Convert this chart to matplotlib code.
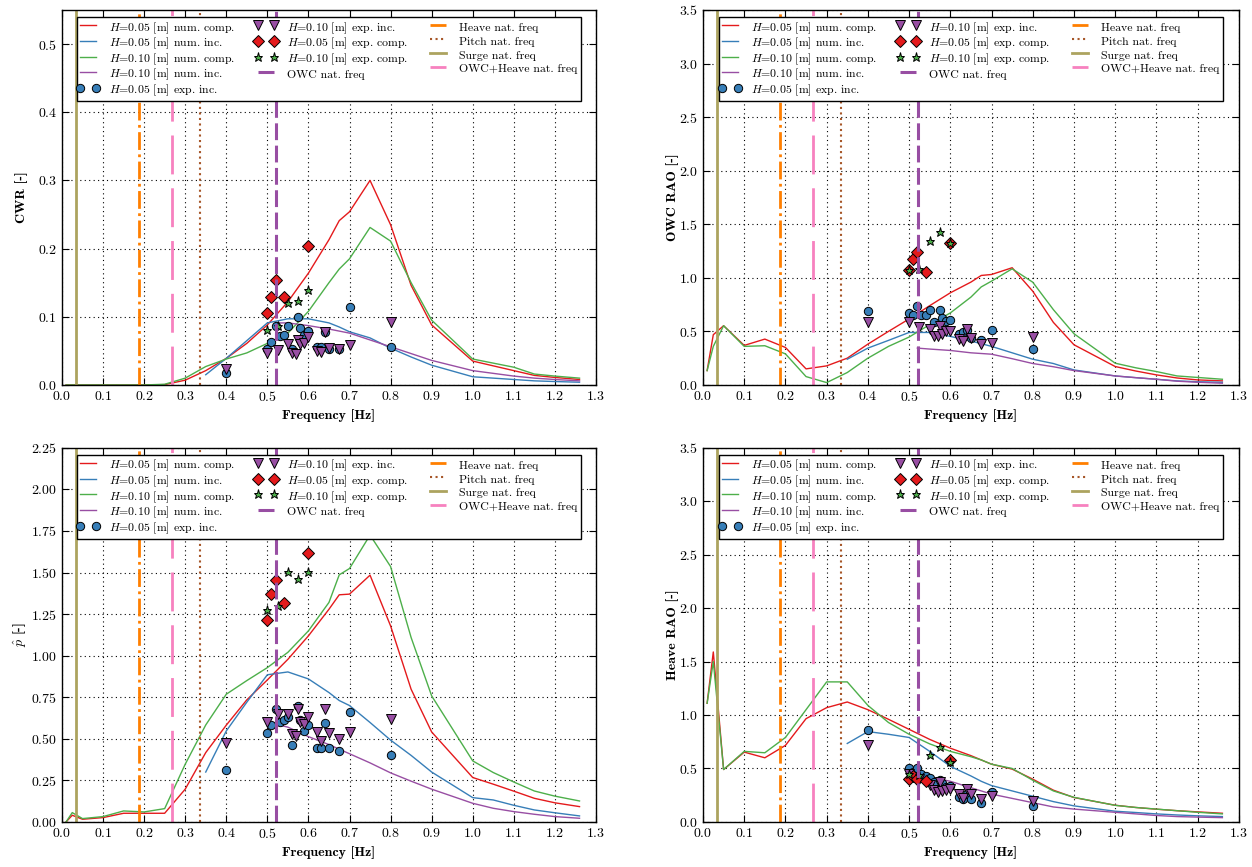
import matplotlib
matplotlib.use("Agg")
import matplotlib.pyplot as plt
from matplotlib.lines import Line2D
from matplotlib.legend_handler import HandlerLine2D

plt.rcParams.update({
    "font.family": "cmr10",
    "mathtext.fontset": "cm",
    "axes.formatter.use_mathtext": True,
    "axes.unicode_minus": False,
    "font.size": 10,
    "xtick.direction": "in",
    "ytick.direction": "in",
    "xtick.top": True,
    "ytick.right": True,
    "xtick.major.size": 5,
    "ytick.major.size": 5,
    "xtick.major.width": 0.8,
    "ytick.major.width": 0.8,
    "axes.linewidth": 1.0,
})

# ---------------- frequencies [Hz] ----------------
freq_num = [0.01, 0.025, 0.05, 0.10, 0.15, 0.20, 0.25, 0.30, 0.35, 0.40, 0.45, 0.50, 0.55,
            0.60, 0.65, 0.675, 0.70, 0.75, 0.80, 0.85, 0.90, 1.00, 1.05, 1.10, 1.15, 1.20, 1.26]
freq_num_inc05 = [0.35, 0.40, 0.45, 0.50, 0.55, 0.60, 0.65, 0.675, 0.70, 0.75, 0.80, 0.85,
                  0.90, 1.00, 1.05, 1.10, 1.15, 1.20, 1.26]
freq_num_inc10 = [0.52, 0.55, 0.60, 0.65, 0.70, 0.75, 0.80, 0.85, 0.90, 1.00, 1.05, 1.10,
                  1.15, 1.20, 1.26]
freq_exp_inc05 = [0.40, 0.50, 0.51, 0.52, 0.53, 0.54, 0.55, 0.56, 0.575, 0.58, 0.59, 0.60,
                  0.62, 0.63, 0.64, 0.65, 0.675, 0.70, 0.80]
freq_exp_inc10 = [0.40, 0.50, 0.525, 0.55, 0.56, 0.57, 0.575, 0.58, 0.59, 0.60, 0.62, 0.63,
                  0.64, 0.65, 0.675, 0.70, 0.80]
freq_exp_comp05 = [0.50, 0.51, 0.52, 0.54, 0.60]
freq_exp_comp10 = [0.50, 0.525, 0.55, 0.575, 0.60]

# natural frequencies [Hz]
f_surge = 0.035
f_heave = 0.187
f_owc_heave = 0.267
f_pitch = 0.335
f_owc = 0.522

# ---------------- CWR ----------------
cwr_num_comp05 = [0, 0, 0, 0, 0, 0, 0.0005, 0.007, 0.021, 0.039, 0.061, 0.088, 0.122, 0.164,
                  0.213, 0.241, 0.254, 0.300, 0.235, 0.146, 0.088, 0.035, 0.028, 0.021, 0.014,
                  0.011, 0.008]
cwr_num_comp10 = [0, 0, 0, 0, 0, 0, 0.001, 0.010, 0.027, 0.038, 0.047, 0.061, 0.076, 0.108,
                  0.150, 0.170, 0.185, 0.231, 0.211, 0.150, 0.095, 0.038, 0.032, 0.026, 0.016,
                  0.013, 0.010]
cwr_num_inc05 = [0.015, 0.039, 0.065, 0.091, 0.097, 0.097, 0.091, 0.085, 0.078, 0.069, 0.054,
                 0.041, 0.029, 0.012, 0.010, 0.008, 0.006, 0.005, 0.004]
cwr_num_inc10 = [0.091, 0.091, 0.087, 0.082, 0.076, 0.066, 0.056, 0.046, 0.036, 0.021, 0.017,
                 0.013, 0.010, 0.008, 0.006]
cwr_exp_inc05 = [0.017, 0.052, 0.063, 0.086, 0.072, 0.073, 0.087, 0.052, 0.100, 0.084, 0.073,
                 0.079, 0.055, 0.055, 0.077, 0.053, 0.053, 0.114, 0.056]
cwr_exp_inc10 = [0.023, 0.047, 0.051, 0.060, 0.047, 0.045, 0.066, 0.060, 0.061, 0.070, 0.050,
                 0.048, 0.077, 0.054, 0.053, 0.059, 0.092]
cwr_exp_comp05 = [0.106, 0.129, 0.154, 0.129, 0.204]
cwr_exp_comp10 = [0.081, 0.086, 0.120, 0.123, 0.139]

# ---------------- OWC RAO ----------------
owc_num_comp05 = [0.134, 0.469, 0.553, 0.369, 0.428, 0.350, 0.150, 0.178, 0.250, 0.381, 0.500,
                  0.616, 0.740, 0.860, 0.960, 1.022, 1.031, 1.094, 0.875, 0.584, 0.375, 0.172,
                  0.130, 0.094, 0.065, 0.047, 0.038]
owc_num_comp10 = [0.134, 0.360, 0.553, 0.360, 0.366, 0.290, 0.078, 0.022, 0.116, 0.250, 0.360,
                  0.447, 0.563, 0.672, 0.820, 0.915, 0.969, 1.084, 0.959, 0.703, 0.478, 0.203,
                  0.160, 0.125, 0.084, 0.070, 0.053]
owc_num_inc05 = [0.240, 0.344, 0.416, 0.490, 0.490, 0.453, 0.410, 0.385, 0.360, 0.300, 0.240,
                 0.200, 0.140, 0.084, 0.068, 0.053, 0.038, 0.030, 0.025]
owc_num_inc10 = [0.344, 0.335, 0.322, 0.300, 0.287, 0.245, 0.200, 0.170, 0.134, 0.084, 0.068,
                 0.053, 0.035, 0.025, 0.016]
owc_exp_inc05 = [0.686, 0.671, 0.656, 0.739, 0.656, 0.653, 0.702, 0.583, 0.702, 0.624, 0.599,
                 0.602, 0.474, 0.490, 0.515, 0.437, 0.421, 0.515, 0.334]
owc_exp_inc10 = [0.584, 0.584, 0.537, 0.522, 0.459, 0.453, 0.553, 0.480, 0.500, 0.500, 0.430,
                 0.410, 0.520, 0.440, 0.380, 0.390, 0.447]
owc_exp_comp05 = [1.072, 1.178, 1.240, 1.056, 1.328]
owc_exp_comp10 = [1.070, 1.078, 1.344, 1.431, 1.328]

# ---------------- p-hat ----------------
p_num_comp05 = [0.0, 0.040, 0.016, 0.026, 0.052, 0.052, 0.052, 0.197, 0.417, 0.582, 0.734,
                0.854, 0.978, 1.119, 1.279, 1.366, 1.370, 1.484, 1.179, 0.798, 0.541, 0.267,
                0.227, 0.185, 0.142, 0.115, 0.092]
p_num_comp10 = [0.0, 0.056, 0.020, 0.032, 0.066, 0.060, 0.080, 0.347, 0.583, 0.768, 0.850,
                0.928, 1.020, 1.149, 1.320, 1.486, 1.524, 1.725, 1.536, 1.109, 0.758, 0.367,
                0.297, 0.240, 0.186, 0.155, 0.126]
p_num_inc05 = [0.300, 0.547, 0.720, 0.885, 0.902, 0.860, 0.778, 0.730, 0.700, 0.598, 0.492,
               0.400, 0.300, 0.146, 0.132, 0.100, 0.072, 0.055, 0.036]
p_num_inc10 = [0.588, 0.570, 0.513, 0.465, 0.410, 0.355, 0.295, 0.245, 0.197, 0.112, 0.082,
               0.062, 0.046, 0.032, 0.022]
p_exp_inc05 = [0.313, 0.533, 0.585, 0.678, 0.600, 0.614, 0.630, 0.460, 0.697, 0.612, 0.546,
               0.582, 0.442, 0.442, 0.597, 0.442, 0.428, 0.661, 0.402]
p_exp_inc10 = [0.473, 0.602, 0.647, 0.651, 0.526, 0.516, 0.677, 0.600, 0.590, 0.630, 0.540,
               0.484, 0.680, 0.536, 0.496, 0.540, 0.616]
p_exp_comp05 = [1.213, 1.370, 1.456, 1.319, 1.616]
p_exp_comp10 = [1.275, 1.300, 1.504, 1.460, 1.504]

# ---------------- Heave RAO ----------------
heave_num_comp05 = [1.11, 1.59, 0.49, 0.653, 0.60, 0.716, 0.966, 1.069, 1.122, 1.05, 0.96,
                    0.866, 0.772, 0.69, 0.62, 0.58, 0.54, 0.494, 0.40, 0.297, 0.228, 0.156,
                    0.135, 0.119, 0.105, 0.094, 0.081]
heave_num_comp10 = [1.11, 1.50, 0.49, 0.66, 0.647, 0.79, 1.05, 1.31, 1.31, 1.09, 0.93, 0.82,
                    0.73, 0.66, 0.61, 0.58, 0.54, 0.50, 0.39, 0.29, 0.23, 0.155, 0.135, 0.12,
                    0.105, 0.09, 0.075]
heave_num_inc05 = [0.734, 0.845, 0.82, 0.79, 0.66, 0.52, 0.43, 0.38, 0.34, 0.29, 0.24, 0.19,
                   0.15, 0.10, 0.088, 0.075, 0.065, 0.057, 0.05]
heave_num_inc10 = [0.44, 0.42, 0.38, 0.32, 0.26, 0.22, 0.18, 0.14, 0.12, 0.09, 0.075, 0.06,
                   0.05, 0.045, 0.04]
heave_exp_inc05 = [0.856, 0.50, 0.47, 0.50, 0.45, 0.43, 0.41, 0.37, 0.39, 0.36, 0.33, 0.34,
                   0.23, 0.21, 0.26, 0.21, 0.18, 0.28, 0.15]
heave_exp_inc10 = [0.72, 0.45, 0.40, 0.35, 0.30, 0.28, 0.37, 0.29, 0.30, 0.31, 0.26, 0.225,
                   0.31, 0.26, 0.215, 0.24, 0.197]
heave_exp_comp05 = [0.406, 0.43, 0.40, 0.384, 0.578]
heave_exp_comp10 = [0.45, 0.44, 0.625, 0.697, 0.556]

RED, BLUE, GREEN, PURPLE = "#e41a1c", "#377eb8", "#4daf4a", "#984ea3"
ORANGE, BROWN, OLIVE, PINK = "#ff7f00", "#a65628", "#aca35f", "#f781bf"

panels = [
    dict(pos=[0.0495, 0.556, 0.4265, 0.4325], ylabel="CWR [-]", ylim=0.55, ystep=0.1, lx=-0.064,
         nc05=cwr_num_comp05, ni05=cwr_num_inc05, nc10=cwr_num_comp10, ni10=cwr_num_inc10,
         ei05=cwr_exp_inc05, ei10=cwr_exp_inc10, ec05=cwr_exp_comp05, ec10=cwr_exp_comp10),
    dict(pos=[0.5615, 0.556, 0.4280, 0.4325], ylabel="OWC RAO [-]", ylim=3.5, ystep=0.5, lx=-0.044,
         nc05=owc_num_comp05, ni05=owc_num_inc05, nc10=owc_num_comp10, ni10=owc_num_inc10,
         ei05=owc_exp_inc05, ei10=owc_exp_inc10, ec05=owc_exp_comp05, ec10=owc_exp_comp10),
    dict(pos=[0.0495, 0.052, 0.4265, 0.4315], ylabel=r"$\hat{p}$ [-]", ylim=2.25, ystep=0.25,
         lx=-0.064,
         nc05=p_num_comp05, ni05=p_num_inc05, nc10=p_num_comp10, ni10=p_num_inc10,
         ei05=p_exp_inc05, ei10=p_exp_inc10, ec05=p_exp_comp05, ec10=p_exp_comp10),
    dict(pos=[0.5615, 0.052, 0.4280, 0.4315], ylabel="Heave RAO [-]", ylim=3.5, ystep=0.5,
         lx=-0.044,
         nc05=heave_num_comp05, ni05=heave_num_inc05, nc10=heave_num_comp10, ni10=heave_num_inc10,
         ei05=heave_exp_inc05, ei10=heave_exp_inc10, ec05=heave_exp_comp05, ec10=heave_exp_comp10),
]

fig = plt.figure(figsize=(12.52, 8.67), dpi=100)
xticks = [i / 10 for i in range(14)]
mk = dict(linestyle="none", markeredgecolor="k", markeredgewidth=0.7)

for p in panels:
    ax = fig.add_axes(p["pos"])
    ax.plot(freq_num, p["nc05"], color=RED, lw=1.0, label=r"$H$=0.05 [m] num. comp.")
    ax.plot(freq_num_inc05, p["ni05"], color=BLUE, lw=1.0, label=r"$H$=0.05 [m] num. inc.")
    ax.plot(freq_num, p["nc10"], color=GREEN, lw=1.0, label=r"$H$=0.10 [m] num. comp.")
    ax.plot(freq_num_inc10, p["ni10"], color=PURPLE, lw=1.0, label=r"$H$=0.10 [m] num. inc.")
    ax.plot(freq_exp_inc05, p["ei05"], marker="o", ms=6, color=BLUE, **mk,
            label=r"$H$=0.05 [m] exp. inc.")
    ax.plot(freq_exp_inc10, p["ei10"], marker="v", ms=6.5, color=PURPLE, **mk,
            label=r"$H$=0.10 [m] exp. inc.")
    ax.plot(freq_exp_comp05, p["ec05"], marker="D", ms=6.5, color=RED, **mk,
            label=r"$H$=0.05 [m] exp. comp.")
    ax.plot(freq_exp_comp10, p["ec10"], marker="*", ms=6.5, color=GREEN, **mk,
            label=r"$H$=0.10 [m] exp. comp.")
    ax.axvline(f_owc, color=PURPLE, lw=2.2, linestyle=(0, (5.5, 1.8)), label="OWC nat. freq")
    ax.axvline(f_heave, color=ORANGE, lw=2.0, linestyle="-.", label="Heave nat. freq")
    ax.axvline(f_pitch, color=BROWN, lw=1.5, linestyle=":", label="Pitch nat. freq")
    ax.axvline(f_surge, color=OLIVE, lw=2.0, linestyle="-", label="Surge nat. freq")
    ax.axvline(f_owc_heave, color=PINK, lw=2.0, linestyle=(0, (14, 5)),
               label="OWC+Heave nat. freq")

    ax.set_xlim(0, 1.3)
    ax.set_xticks(xticks)
    n = int(p["ylim"] / p["ystep"] + 1e-9)
    ax.set_yticks([p["ystep"] * i for i in range(n + 1)])
    ax.set_ylim(0, p["ylim"])
    ax.grid(True, color="k", linestyle=(0, (1, 3)), linewidth=0.8)
    ax.set_xlabel("Frequency [Hz]", family="cmb10", fontsize=10)
    ax.set_ylabel(p["ylabel"], family="cmb10", fontsize=10)
    ax.yaxis.set_label_coords(p["lx"], 0.5)

    leg = ax.legend(loc="upper center", ncol=3, fontsize=8.5, numpoints=2, frameon=True,
                    fancybox=False, framealpha=1.0, edgecolor="k", handlelength=1.35,
                    handleheight=1.43, handletextpad=1.1, columnspacing=1.9,
                    labelspacing=0.0, borderpad=0.25, borderaxespad=0.6,
                    handler_map={Line2D: HandlerLine2D(marker_pad=0.0, numpoints=2)})
    leg.get_frame().set_linewidth(1.0)

fig.savefig("out.png", dpi=100)
